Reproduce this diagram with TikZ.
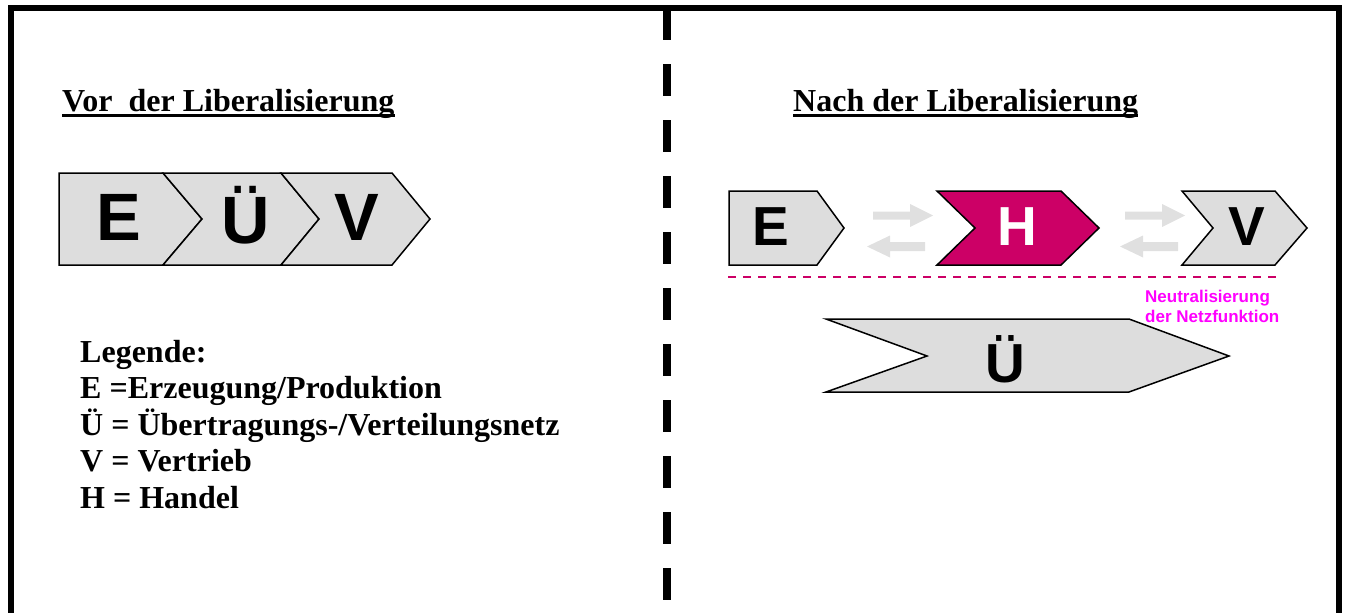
\documentclass[tikz,border=0pt]{standalone}
\usepackage{fontspec}
\setmainfont{Liberation Serif}
\newfontfamily\arialf{Liberation Sans}
\definecolor{boxgrey}{HTML}{DDDDDD}
\definecolor{arrowgrey}{HTML}{E0E0E0}
\definecolor{hcol}{HTML}{CC0066}
\definecolor{neutral}{HTML}{FF00FF}
\begin{document}
\begin{tikzpicture}[x=1pt,y=-1pt,
  chev/.style={fill=boxgrey,draw=black,line width=1.5pt,line join=miter},
  hchev/.style={fill=hcol,draw=black,line width=1.5pt,line join=miter},
  bigletter/.style={font=\arialf\bfseries\fontsize{67}{67}\selectfont,inner sep=0pt,anchor=base},
  midletter/.style={font=\arialf\bfseries\fontsize{55}{55}\selectfont,inner sep=0pt,anchor=base},
  heading/.style={font=\bfseries\fontsize{32}{36}\selectfont,inner sep=0pt,anchor=base west},
  legend/.style={font=\bfseries\fontsize{32}{36}\selectfont,inner sep=0pt,anchor=base west},
  note/.style={font=\arialf\bfseries\fontsize{17}{20}\selectfont,text=neutral,inner sep=0pt,anchor=base west},
  flow/.style={fill=arrowgrey}]
\useasboundingbox (0,0) rectangle (1347,613);
% frame
\draw[line width=6pt,line join=miter] (11,630) -- (11,8) -- (1339,8) -- (1339,630);
\draw[line width=8pt,dash pattern=on 32pt off 24pt] (667,8) -- (667,630);
% headings
\node[heading] (hl) at (62,111) {Vor\ \ der Liberalisierung};
\draw[line width=3pt] ([yshift=-4.5pt]hl.base west) -- ([yshift=-4.5pt]hl.base east);
\node[heading] (hr) at (793,111) {Nach der Liberalisierung};
\draw[line width=3pt] ([yshift=-4.5pt]hr.base west) -- ([yshift=-4.5pt]hr.base east);
% left chain
\draw[chev] (59,173) -- (163,173) -- (202,219) -- (163,265) -- (59,265) -- cycle;
\draw[chev] (163,173) -- (281,173) -- (319,219) -- (281,265) -- (163,265) -- (202,219) -- cycle;
\draw[chev] (281,173) -- (392,173) -- (430,219) -- (392,265) -- (281,265) -- (319,219) -- cycle;
\node[bigletter] (le) at (119,240) {E};
\node[bigletter] (lu) at (246,243) {Ü};
\node[bigletter] (lv) at (357,240) {V};
% legend
\node[legend] (lg0) at (80,362) {Legende:};
\node[legend] (lg1) at (80,398) {E =Erzeugung/Produktion};
\node[legend] (lg2) at (80,435) {Ü = Übertragungs-/Verteilungsnetz};
\node[legend] (lg3) at (80,471) {V = Vertrieb};
\node[legend] (lg4) at (80,508) {H = Handel};
% right chain
\draw[chev] (729,191) -- (817,191) -- (844,228) -- (817,265) -- (729,265) -- cycle;
\draw[hchev] (937,191) -- (1061,191) -- (1099,228) -- (1061,265) -- (937,265) -- (975,228) -- cycle;
\draw[chev] (1182,191) -- (1275,191) -- (1307,228) -- (1275,265) -- (1182,265) -- (1213,228) -- cycle;
\node[midletter] (re) at (771,245) {E};
\node[midletter,text=white] (rh) at (1017,245) {H};
\node[midletter] (rv) at (1247,245) {V};
% flow arrows
\fill[flow,shift={(873,215.5)}] (0,-4) -- (37,-4) -- (37,-11.5) -- (60,0) -- (37,11.5) -- (37,4) -- (0,4) -- cycle;
\fill[flow,shift={(925,246.5)}] (0,-4.5) -- (-35,-4.5) -- (-35,-11) -- (-58,0) -- (-35,11) -- (-35,4.5) -- (0,4.5) -- cycle;
\fill[flow,shift={(1125,215.5)}] (0,-4) -- (37,-4) -- (37,-11.5) -- (60,0) -- (37,11.5) -- (37,4) -- (0,4) -- cycle;
\fill[flow,shift={(1178,246.5)}] (0,-4.5) -- (-35,-4.5) -- (-35,-11) -- (-58,0) -- (-35,11) -- (-35,4.5) -- (0,4.5) -- cycle;
% neutral line
\draw[hcol,line width=2pt,dash pattern=on 8pt off 7pt] (728,277) -- (1278,277);
\node[note] (n1) at (1145,302) {Neutralisierung};
\node[note] (n2) at (1145,322) {der Netzfunktion};
% big U
\draw[chev] (826,319) -- (1129,319) -- (1229,356) -- (1129,392) -- (826,392) -- (927,356) -- cycle;
\node[midletter] (ru) at (1005,382) {Ü};
\end{tikzpicture}
\end{document}
